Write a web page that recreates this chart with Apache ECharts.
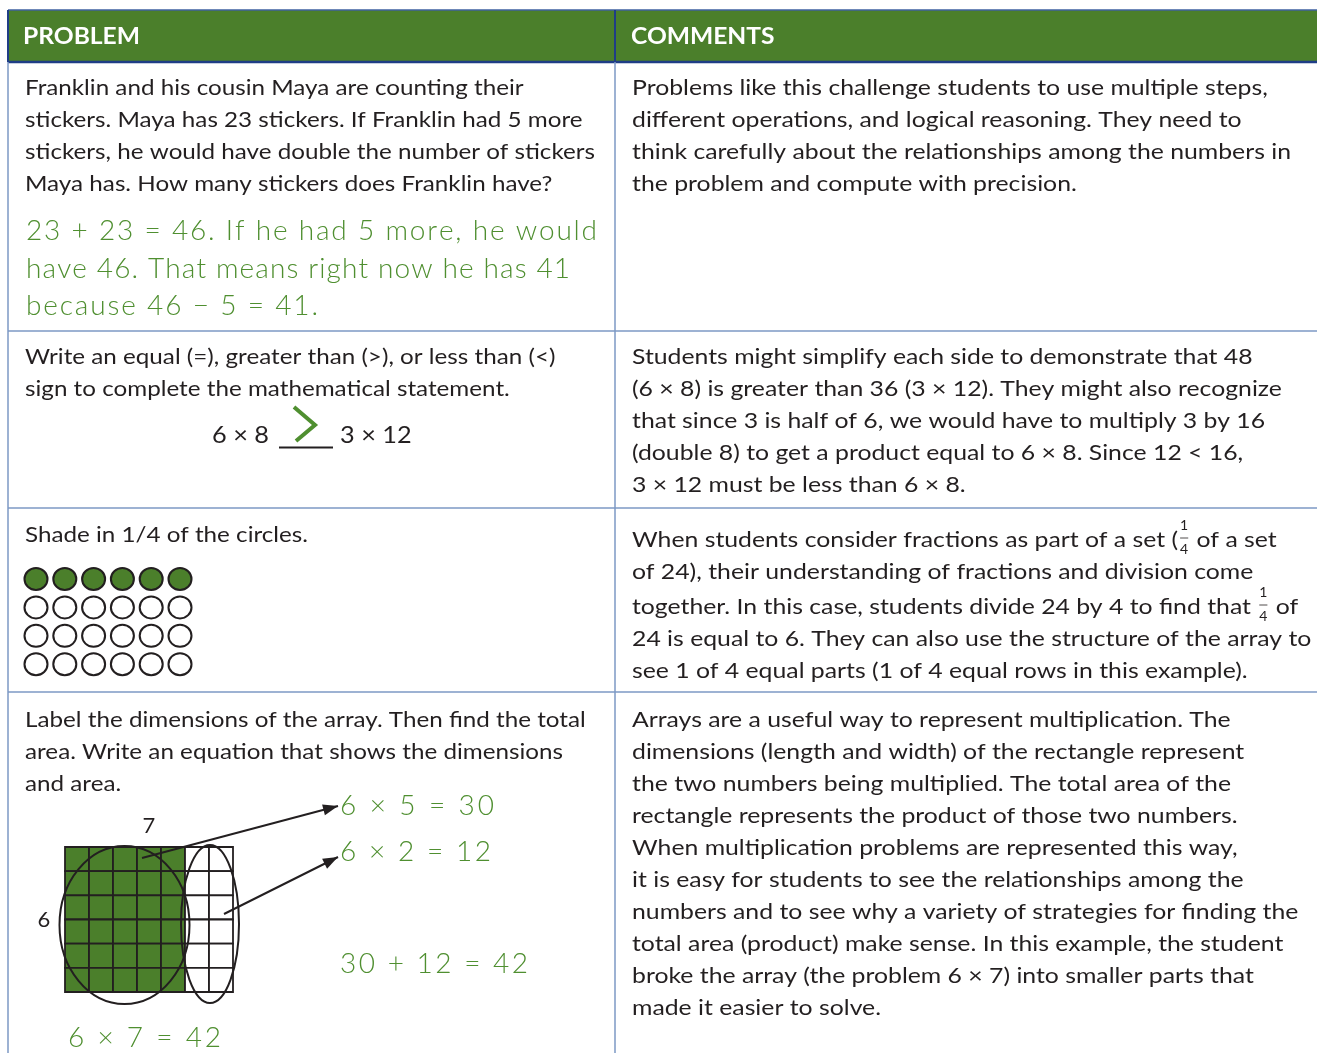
<!DOCTYPE html>
<html>
<head>
<meta charset="utf-8">
<script src="https://cdn.jsdelivr.net/npm/echarts@6/dist/echarts.min.js"></script>
<style>
html, body { margin: 0; padding: 0; background: #fff; }
#chart { width: 1317px; height: 1053px; }
</style>
</head>
<body>
<div id="chart"></div>
<script>
'use strict';

const headers = ["PROBLEM", "COMMENTS"];

const problemText = [
    ["Franklin and his cousin Maya are counting their",
     "stickers. Maya has 23 stickers. If Franklin had 5 more",
     "stickers, he would have double the number of stickers",
     "Maya has. How many stickers does Franklin have?"],
    ["Write an equal (=), greater than (>), or less than (<)",
     "sign to complete the mathematical statement."],
    ["Shade in 1/4 of the circles."],
    ["Label the dimensions of the array. Then find the total",
     "area. Write an equation that shows the dimensions",
     "and area."]
];

const commentText = [
    ["Problems like this challenge students to use multiple steps,",
     "different operations, and logical reasoning. They need to",
     "think carefully about the relationships among the numbers in",
     "the problem and compute with precision."],
    ["Students might simplify each side to demonstrate that 48",
     "(6 × 8) is greater than 36 (3 × 12). They might also recognize",
     "that since 3 is half of 6, we would have to multiply 3 by 16",
     "(double 8) to get a product equal to 6 × 8. Since 12 < 16,",
     "3 × 12 must be less than 6 × 8."],
    ["When students consider fractions as part of a set (|FRAC| of a set",
     "of 24), their understanding of fractions and division come",
     "together. In this case, students divide 24 by 4 to find that |FRAC| of",
     "24 is equal to 6. They can also use the structure of the array to",
     "see 1 of 4 equal parts (1 of 4 equal rows in this example)."],
    ["Arrays are a useful way to represent multiplication. The",
     "dimensions (length and width) of the rectangle represent",
     "the two numbers being multiplied. The total area of the",
     "rectangle represents the product of those two numbers.",
     "When multiplication problems are represented this way,",
     "it is easy for students to see the relationships among the",
     "numbers and to see why a variety of strategies for finding the",
     "total area (product) make sense. In this example, the student",
     "broke the array (the problem 6 × 7) into smaller parts that",
     "made it easier to solve."]
];

// student's handwritten work
const answerLines = [
    "23 + 23 = 46. If he had 5 more, he would",
    "have 46. That means right now he has 41",
    "because 46 − 5 = 41."
];
const compareLeft = "6 × 8";
const compareRight = "3 × 12";
const arrayEquations = ["6 × 5 = 30", "6 × 2 = 12", "30 + 12 = 42", "6 × 7 = 42"];
const arrayLabels = ["7", "6"];

// 1 = shaded circle
const circleRows = [
    [1, 1, 1, 1, 1, 1],
    [0, 0, 0, 0, 0, 0],
    [0, 0, 0, 0, 0, 0],
    [0, 0, 0, 0, 0, 0]
];
// 1 = shaded square of the 6 x 7 array
const arrayRows = [
    [1, 1, 1, 1, 1, 0, 0],
    [1, 1, 1, 1, 1, 0, 0],
    [1, 1, 1, 1, 1, 0, 0],
    [1, 1, 1, 1, 1, 0, 0],
    [1, 1, 1, 1, 1, 0, 0],
    [1, 1, 1, 1, 1, 0, 0]
];

const GREEN = "#4b7f2b";
const PEN = "#4f8f30";
const INK = "#231f20";
const RULE = "#7d99c5";
const NAVY = "#1f3d86";
const FONT = "Lato";
const HAND = "Lato";

const ctx = document.createElement("canvas").getContext("2d");
function measure(str, size, weight, family) {
    ctx.font = `${weight || "normal"} ${size}px ${family || FONT}`;
    return ctx.measureText(str).width;
}

// stretch body text to the width of the printed face (one factor per column)
const bodySize = 22;
const leftScale = 570 / measure("stickers, he would have double the number of stickers", bodySize);
const rightScale = 659 / measure("think carefully about the relationships among the numbers in", bodySize);

const graphics = [];

function textEl(str, x, y, opt) {
    opt = opt || {};
    graphics.push({
        type: "text",
        x: x,
        y: y,
        scaleX: opt.scaleX || 1,
        z: opt.z || 5,
        silent: true,
        style: {
            text: str,
            fontFamily: opt.family || FONT,
            fontSize: opt.size || bodySize,
            fontWeight: opt.weight || "normal",
            fill: opt.fill || INK,
            align: opt.align || "left",
            verticalAlign: "middle"
        }
    });
}

function lineEl(x1, y1, x2, y2, stroke, width, z) {
    graphics.push({
        type: "line",
        z: z || 3,
        silent: true,
        shape: { x1: x1, y1: y1, x2: x2, y2: y2 },
        style: { stroke: stroke, lineWidth: width }
    });
}

function bodyLine(str, x, y, sc) {
    if (str.indexOf("|FRAC|") < 0) {
        textEl(str, x, y, { scaleX: sc });
        return;
    }
    const parts = str.split("|FRAC|");
    textEl(parts[0], x, y, { scaleX: sc });
    const fx = x + measure(parts[0], bodySize) * sc + 1;
    const fw = measure("1", 14) + 2;
    textEl("1", fx + fw / 2, y - 15, { size: 14, align: "center" });
    lineEl(fx + 1, y - 2, fx + fw - 1, y - 2, INK, 0.8, 5);
    textEl("4", fx + fw / 2, y + 9, { size: 14, align: "center" });
    textEl(parts[1], fx + fw + 1, y, { scaleX: sc });
}

function block(lines, x, ys, sc) {
    lines.forEach((str, i) => bodyLine(str, x, ys[i], sc));
}

// handwriting: spread the letters out between x0 and x1
function handLine(str, x0, x1, y) {
    const size = 28;
    const chars = Array.from(str);
    const widths = chars.map(c => measure(c, size, "300", HAND));
    const natural = widths.reduce((a, b) => a + b, 0);
    const gap = (x1 - x0 - natural) / (chars.length - 1);
    let x = x0;
    chars.forEach((c, i) => {
        if (c !== " ") {
            textEl(c, x, y, { size: size, weight: 300, family: HAND, fill: PEN });
        }
        x += widths[i] + gap;
    });
}

function arrow(x1, y1, x2, y2) {
    lineEl(x1, y1, x2, y2, INK, 2, 10);
    const len = Math.hypot(x2 - x1, y2 - y1);
    const dx = (x2 - x1) / len, dy = (y2 - y1) / len;
    const L = 15, Wd = 5.5;
    graphics.push({
        type: "polygon",
        z: 10,
        silent: true,
        shape: {
            points: [
                [x2, y2],
                [x2 - dx * L - dy * Wd, y2 - dy * L + dx * Wd],
                [x2 - dx * L + dy * Wd, y2 - dy * L - dx * Wd]
            ]
        },
        style: { fill: INK }
    });
}

// ---- table frame ----
const left = 8, mid = 615, right = 1317;
const headTop = 10, headBottom = 62;
const rowLines = [331, 508, 692];

graphics.push({
    type: "rect", z: 1, silent: true,
    shape: { x: left, y: headTop, width: right - left, height: headBottom - headTop },
    style: { fill: GREEN }
});
lineEl(left, headTop, right, headTop, "#3f61a0", 1.5);
lineEl(left, headBottom, right, headBottom, NAVY, 2.5);
lineEl(left, headTop, left, headBottom, NAVY, 2);
lineEl(mid, headTop, mid, headBottom, NAVY, 2);
lineEl(left, headBottom, left, 1053, RULE, 1.5);
lineEl(mid, headBottom, mid, 1053, RULE, 1.5);
rowLines.forEach(y => lineEl(left, y, right, y, RULE, 1.5));

const headScale = 117 / measure(headers[0], 22, "bold");
textEl(headers[0], 23, 37, { fill: "#fff", weight: "bold", size: 22, scaleX: headScale });
textEl(headers[1], 631, 37, { fill: "#fff", weight: "bold", size: 22, scaleX: headScale });

// ---- body text ----
const step = 32;
const seq = (y0, n) => Array.from({ length: n }, (_, i) => y0 + i * step);

block(problemText[0], 25, seq(88, 4), leftScale);
block(commentText[0], 632, seq(88, 4), rightScale);
block(problemText[1], 25, seq(357, 2), leftScale);
block(commentText[1], 632, seq(357, 5), rightScale);
block(problemText[2], 25, [535], leftScale);
block(commentText[2], 632, [540, 572, 607, 639, 671], rightScale);
block(problemText[3], 25, seq(720, 3), leftScale);
block(commentText[3], 632, seq(720, 10), rightScale);

// ---- row 1 handwriting ----
handLine(answerLines[0], 26, 597, 231);
handLine(answerLines[1], 26, 570, 269);
handLine(answerLines[2], 26, 318, 306);

// ---- row 2 comparison ----
textEl(compareLeft, 212, 436, { scaleX: leftScale, size: 23 });
textEl(compareRight, 340, 436, { scaleX: leftScale, size: 23 });
lineEl(279, 447.5, 333, 447.5, INK, 2);
graphics.push({
    type: "polyline", z: 6, silent: true,
    shape: { points: [[294, 407], [315, 425], [296, 441]] },
    style: { stroke: PEN, lineWidth: 4, fill: null, lineJoin: "miter" }
});

// ---- row 4 array annotations ----
textEl(arrayLabels[0], 149, 826, { size: 22, align: "center" });
textEl(arrayLabels[1], 44, 920, { size: 22, align: "center" });
graphics.push({
    type: "ellipse", z: 10, silent: true,
    shape: { cx: 124.5, cy: 925, rx: 65, ry: 79 },
    style: { stroke: INK, lineWidth: 2, fill: null }
});
graphics.push({
    type: "ellipse", z: 10, silent: true,
    shape: { cx: 210, cy: 924, rx: 29, ry: 79 },
    style: { stroke: INK, lineWidth: 2, fill: null }
});
arrow(142, 858, 338, 806);
arrow(224, 914, 338, 857);
handLine(arrayEquations[0], 340, 494, 806);
handLine(arrayEquations[1], 340, 491, 852);
handLine(arrayEquations[2], 340, 528, 964);
handLine(arrayEquations[3], 68, 221, 1038);

// ---- marks drawn through axes ----
const circleData = [];
circleRows.forEach((row, r) => row.forEach((v, c) => circleData.push([c, r, v])));
const cellData = [];
arrayRows.forEach((row, r) => row.forEach((v, c) => cellData.push([c, r, v])));

const chart = echarts.init(document.getElementById("chart"));
chart.setOption({
    animation: false,
    backgroundColor: "#fff",
    grid: [
        { left: 21.6, top: 564.8, width: 172.8, height: 113.6 },
        { left: 65, top: 847, width: 168, height: 145 }
    ],
    xAxis: [
        { gridIndex: 0, type: "value", min: -0.5, max: 5.5, show: false },
        { gridIndex: 1, type: "value", min: -0.5, max: 6.5, show: false }
    ],
    yAxis: [
        { gridIndex: 0, type: "value", min: -0.5, max: 3.5, inverse: true, show: false },
        { gridIndex: 1, type: "value", min: -0.5, max: 5.5, inverse: true, show: false }
    ],
    series: [{
        type: "scatter",
        xAxisIndex: 0,
        yAxisIndex: 0,
        silent: true,
        symbol: "circle",
        symbolSize: [23, 22],
        data: circleData.map(d => ({
            value: d,
            itemStyle: { color: d[2] ? GREEN : "#fff", borderColor: INK, borderWidth: 2, opacity: 1 }
        }))
    }, {
        type: "scatter",
        xAxisIndex: 1,
        yAxisIndex: 1,
        silent: true,
        symbol: "rect",
        symbolSize: [24, 24.2],
        data: cellData.map(d => ({
            value: d,
            itemStyle: { color: d[2] ? GREEN : "#fff", borderColor: INK, borderWidth: 1.8, opacity: 1 }
        }))
    }],
    graphic: { elements: graphics }
});
</script>
</body>
</html>
